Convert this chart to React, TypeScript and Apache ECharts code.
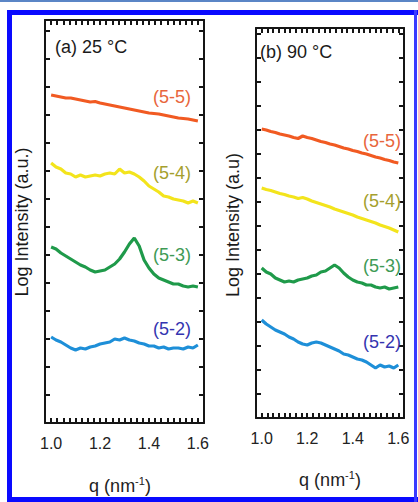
import React, { useEffect, useRef } from "react";
import * as echarts from "echarts";

// q values (nm^-1)
const Q = [1.0, 1.02, 1.04, 1.06, 1.08, 1.1, 1.12, 1.14, 1.16, 1.18, 1.2, 1.22, 1.24, 1.26, 1.28, 1.3, 1.32, 1.34, 1.36, 1.38, 1.4, 1.42, 1.44, 1.46, 1.48, 1.5, 1.52, 1.54, 1.56, 1.58, 1.6];

// Panel (a) 25 °C — log intensity, arbitrary offsets
const A_5_5 = [32.8, 32.7, 32.6, 32.5, 32.5, 32.4, 32.3, 32.2, 32.1, 32.15, 32.0, 31.9, 31.8, 31.7, 31.6, 31.5, 31.4, 31.3, 31.2, 31.1, 31.0, 30.95, 30.9, 30.8, 30.7, 30.6, 30.5, 30.45, 30.4, 30.3, 30.2];
const A_5_4 = [26.0, 25.6, 25.4, 25.0, 24.9, 24.6, 24.8, 24.6, 24.7, 24.8, 24.7, 24.9, 25.0, 24.9, 25.4, 25.0, 25.1, 24.9, 24.6, 24.2, 23.7, 23.4, 23.1, 22.7, 22.6, 22.4, 22.3, 22.2, 22.0, 22.2, 22.0];
const A_5_3 = [17.6, 17.4, 17.0, 16.7, 16.4, 16.1, 15.8, 15.6, 15.3, 15.1, 15.2, 15.3, 15.6, 15.9, 16.4, 17.1, 17.9, 18.5, 17.7, 16.3, 15.5, 14.9, 14.5, 14.3, 14.1, 13.9, 13.9, 13.7, 13.6, 13.7, 13.6];
const A_5_2 = [8.6, 8.3, 8.1, 7.8, 7.5, 7.3, 7.5, 7.4, 7.6, 7.7, 7.9, 8.0, 8.1, 8.4, 8.3, 8.5, 8.3, 8.2, 8.0, 7.9, 7.7, 7.7, 7.5, 7.6, 7.4, 7.5, 7.5, 7.4, 7.6, 7.5, 7.8];

// Panel (b) 90 °C
const B_5_5 = [28.9, 28.8, 28.65, 28.55, 28.4, 28.3, 28.2, 28.05, 27.95, 28.2, 28.05, 27.95, 27.8, 27.65, 27.55, 27.4, 27.3, 27.15, 27.0, 26.9, 26.75, 26.65, 26.5, 26.4, 26.25, 26.1, 26.0, 25.85, 25.75, 25.6, 25.5];
const B_5_4 = [23.0, 22.85, 22.75, 22.6, 22.45, 22.35, 22.2, 22.1, 21.95, 22.05, 21.9, 21.7, 21.55, 21.4, 21.25, 21.1, 20.9, 20.75, 20.6, 20.45, 20.3, 20.1, 19.95, 19.8, 19.65, 19.5, 19.3, 19.15, 19.0, 18.8, 18.6];
const B_5_3 = [15.0, 14.6, 14.4, 14.0, 13.8, 13.6, 13.7, 13.6, 13.8, 13.9, 14.0, 14.2, 14.3, 14.6, 14.7, 15.0, 15.3, 15.0, 14.5, 14.1, 13.8, 13.6, 13.5, 13.3, 13.3, 13.1, 13.0, 13.1, 12.9, 13.0, 13.1];
const B_5_2 = [9.8, 9.4, 9.1, 8.8, 8.6, 8.4, 8.1, 7.9, 7.6, 7.4, 7.3, 7.5, 7.6, 7.5, 7.3, 7.1, 6.9, 6.7, 6.4, 6.3, 6.1, 5.9, 5.8, 5.6, 5.3, 5.0, 5.3, 5.1, 5.2, 5.0, 5.3];

const X_TICK_LABELS = ["1.0", "1.2", "1.4", "1.6"];
const SERIES_NAMES = ["(5-5)", "(5-4)", "(5-3)", "(5-2)"];
const PANEL_TITLES = ["(a) 25 °C", "(b) 90 °C"];
const Y_TITLES = ["Log Intensity (a.u.)", "Log Intensity (a.u)"];

const LINE_COLORS = ["#f15a22", "#f3e41c", "#1f9a4a", "#1e8fd8"];
const LABEL_COLORS = ["#e8653c", "#a59f2e", "#3e9a55", "#3434b0"];
const FONT = "'Liberation Sans', Arial, Helvetica, sans-serif";
const AXIS_COLOR = "#151515";

export default function App() {
  const ref = useRef<HTMLDivElement>(null);

  useEffect(() => {
    if (!ref.current) return;
    const chart = echarts.init(ref.current, undefined, { renderer: "svg" });

    const fmt = (v: number) => {
      const s = v.toFixed(1);
      return X_TICK_LABELS.includes(s) && Math.abs(v - parseFloat(s)) < 1e-6 ? s : "";
    };

    const xAx = (grid: number, pos: "top" | "bottom", labels: boolean) => ({
      type: "value",
      gridIndex: grid,
      position: pos,
      min: 0.975,
      max: 1.625,
      interval: 0.025,
      axisLine: { show: true, onZero: false, lineStyle: { color: AXIS_COLOR, width: 2 } },
      axisTick: { show: true, inside: true, length: 5, lineStyle: { color: AXIS_COLOR, width: 2 } },
      axisLabel: {
        show: labels,
        formatter: fmt,
        fontSize: 16,
        margin: 12,
        color: "#222",
        fontFamily: FONT,
      },
      splitLine: { show: false },
    });

    const yAx = (grid: number, pos: "left" | "right", max: number, interval: number) => ({
      type: "value",
      gridIndex: grid,
      position: pos,
      min: 0,
      max,
      interval,
      axisLine: { show: true, onZero: false, lineStyle: { color: AXIS_COLOR, width: 2 } },
      axisTick: { show: true, inside: true, length: 5, lineStyle: { color: AXIS_COLOR, width: 2 } },
      axisLabel: { show: false },
      splitLine: { show: false },
    });

    const mk = (vals: number[], xi: number, yi: number, color: string) => ({
      type: "line",
      xAxisIndex: xi,
      yAxisIndex: yi,
      data: Q.map((q, i) => [q, vals[i]]),
      showSymbol: false,
      symbol: "none",
      lineStyle: { color, width: 3.2 },
      z: 3,
    });

    const panelA = [A_5_5, A_5_4, A_5_3, A_5_2];
    const panelB = [B_5_5, B_5_4, B_5_3, B_5_2];

    const labelA = [97, 173, 255, 329];
    const labelB = [141, 201, 266, 342];

    const txt = (text: string, x: number, y: number, color: string, align: string, size = 18, extra: any = {}) => ({
      type: "text",
      x,
      y,
      z: 10,
      ...extra,
      style: {
        text,
        fill: color,
        font: `${size}px ${FONT}`,
        textAlign: align,
        textVerticalAlign: "middle",
      },
    });

    const xTitle = (cx: number, y: number) => ({
      type: "text",
      x: cx,
      y,
      z: 10,
      style: {
        text: "q (nm{sup|-1})",
        fill: "#222",
        font: `18px ${FONT}`,
        textAlign: "center",
        textVerticalAlign: "middle",
        rich: {
          sup: { fontSize: 11, fontFamily: FONT, fill: "#222", padding: [0, 0, 10, 0] },
        },
      },
    });

    const option: any = {
      animation: false,
      backgroundColor: "#ffffff",
      grid: [
        { left: 45, top: 20, width: 159, height: 403 },
        { left: 256, top: 28, width: 148, height: 390 },
      ],
      xAxis: [xAx(0, "bottom", true), xAx(0, "top", false), xAx(1, "bottom", true), xAx(1, "top", false)],
      yAxis: [yAx(0, "left", 40.3, 2.8), yAx(0, "right", 40.3, 2.8), yAx(1, "left", 39, 2.4), yAx(1, "right", 39, 2.4)],
      series: [
        ...panelA.map((v, i) => mk(v, 0, 0, LINE_COLORS[i])),
        ...panelB.map((v, i) => mk(v, 2, 2, LINE_COLORS[i])),
      ],
      graphic: [
        // page decoration frame
        { type: "rect", shape: { x: 0, y: 0, width: 418, height: 2 }, style: { fill: "#5b86c6" } },
        { type: "rect", shape: { x: 7, y: 10, width: 411, height: 5 }, style: { fill: "#0a0aff" } },
        { type: "rect", shape: { x: 7, y: 10, width: 5, height: 492 }, style: { fill: "#0a0aff" } },
        { type: "rect", shape: { x: 7, y: 497, width: 411, height: 5 }, style: { fill: "#0a0aff" } },
        { type: "rect", shape: { x: 414, y: 10, width: 3, height: 492 }, style: { fill: "#3a3aff" } },
        // panel titles
        txt(PANEL_TITLES[0], 55, 47, "#1a1a1a", "left"),
        txt(PANEL_TITLES[1], 260, 52, "#1a1a1a", "left"),
        // curve labels
        ...SERIES_NAMES.map((n, i) => txt(n, 191, labelA[i], LABEL_COLORS[i], "right")),
        ...SERIES_NAMES.map((n, i) => txt(n, 401, labelB[i], LABEL_COLORS[i], "right")),
        // y titles
        txt(Y_TITLES[0], 22, 222, "#1a1a1a", "center", 18, { rotation: Math.PI / 2 }),
        txt(Y_TITLES[1], 233, 225, "#1a1a1a", "center", 18, { rotation: Math.PI / 2 }),
        // x titles
        xTitle(120, 486),
        xTitle(330, 480),
      ],
    };

    chart.setOption(option);
    return () => chart.dispose();
  }, []);

  return (
    <div
      ref={ref}
      style={{ position: "absolute", left: 0, top: 0, width: 418, height: 502, background: "#fff" }}
    />
  );
}
